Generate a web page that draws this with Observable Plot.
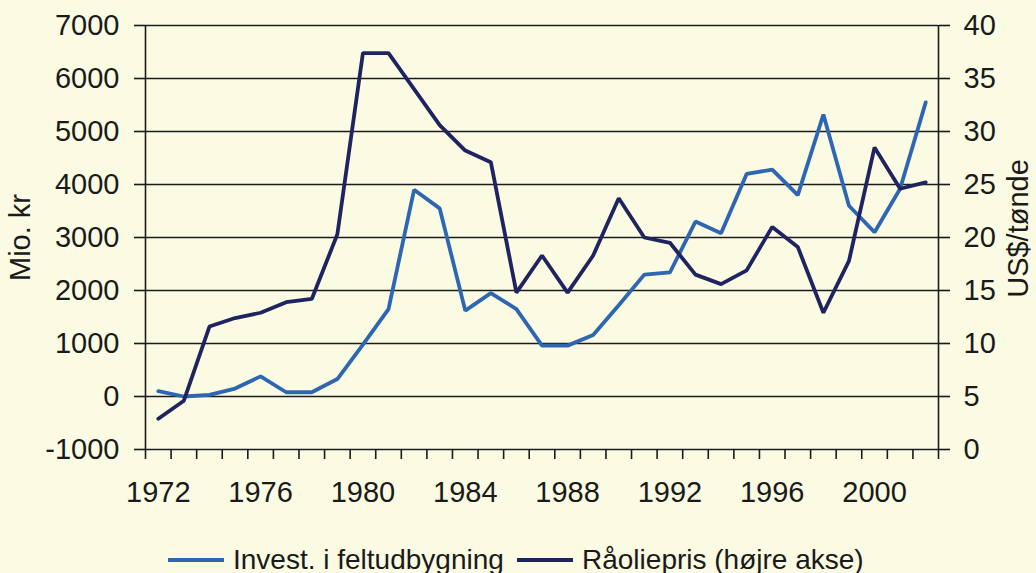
<!DOCTYPE html>
<html>
<head>
<meta charset="utf-8">
<script src="https://cdn.jsdelivr.net/npm/d3@7"></script>
<script src="https://cdn.jsdelivr.net/npm/@observablehq/plot@0.6"></script>
<style>
  html, body { margin: 0; padding: 0; background: #fbfae2; }
  body { width: 1036px; height: 573px; overflow: hidden; position: relative; font-family: "Liberation Sans", Arial, sans-serif; color: #1a1a1a; }
  #legend { position: absolute; left: 0; top: 538px; width: 1036px; height: 40px; font-size: 28px; }
  .item { position: absolute; top: 2px; white-space: nowrap; line-height: 40px; }
  .sw { display: inline-block; width: 56px; height: 4px; vertical-align: middle; margin-right: 9px; position: relative; top: -2px; }
</style>
</head>
<body>
<div id="chart"></div>
<div id="legend">
  <div class="item" style="left:168px"><span class="sw" style="background:#2d66b2"></span>Invest. i feltudbygning</div>
  <div class="item" style="left:517px"><span class="sw" style="background:#1f2461"></span>Råoliepris (højre akse)</div>
</div>
<script>
const years = d3.range(1972, 2003);
const invest = [100, 0, 30, 150, 380, 80, 80, 330, 980, 1650, 3900, 3550, 1620, 1950, 1650, 960, 960, 1160, 1720, 2300, 2340, 3300, 3080, 4200, 4280, 3800, 5320, 3600, 3100, 3920, 5550];
const oil = [2.9, 4.6, 11.6, 12.4, 12.9, 13.9, 14.2, 20.3, 37.4, 37.4, 34.0, 30.6, 28.2, 27.1, 14.8, 18.3, 14.8, 18.3, 23.7, 20.0, 19.5, 16.5, 15.6, 16.9, 21.0, 19.1, 12.9, 17.8, 28.5, 24.6, 25.2];
const leftTicks = [-1000, 0, 1000, 2000, 3000, 4000, 5000, 6000, 7000];
const rightTicks = [0, 5, 10, 15, 20, 25, 30, 35, 40];
const yearLabels = [1972, 1976, 1980, 1984, 1988, 1992, 1996, 2000];
const seriesNames = ["Invest. i feltudbygning", "Råoliepris (højre akse)"];

// right axis maps 0..40 onto -1000..7000
const toLeft = p => p * 200 - 1000;
const investData = years.map((y, i) => ({year: y, v: invest[i]}));
const oilData = years.map((y, i) => ({year: y, v: toLeft(oil[i])}));
const boundaries = d3.range(1971.5, 2003, 1);

const W = 1036, H = 532;
const FS = 29;
const chart = Plot.plot({
  width: W,
  height: H,
  marginTop: 25,
  marginBottom: H - 449,
  marginLeft: 145,
  marginRight: W - 938,
  style: {background: "transparent", fontFamily: "Liberation Sans, Arial, sans-serif", fontSize: FS + "px", color: "#1a1a1a"},
  x: {domain: [1971.5, 2002.5]},
  y: {domain: [-1000, 7000]},
  marks: [
    Plot.gridY(leftTicks, {stroke: "#1c1c1c", strokeOpacity: 1, strokeWidth: 1.6}),
    Plot.ruleX([1971.5, 2002.5], {stroke: "#1c1c1c", strokeWidth: 1.6}),
    Plot.axisY(leftTicks, {anchor: "left", tickSize: 11, tickPadding: 15, tickFormat: d => String(d), fontSize: FS, label: null, strokeWidth: 1.6}),
    Plot.axisY(rightTicks.map(toLeft), {anchor: "right", tickSize: 11, tickPadding: 14, tickFormat: d => String((d + 1000) / 200), fontSize: FS, label: null, strokeWidth: 1.6}),
    Plot.axisX(boundaries, {anchor: "bottom", tickSize: 10, tickFormat: () => "", label: null, strokeWidth: 1.6}),
    Plot.axisX(yearLabels, {anchor: "bottom", tickSize: 0, tickPadding: 32, tickFormat: d => String(d), fontSize: FS, label: null}),
    Plot.text(["Mio. kr"], {frameAnchor: "left", textAnchor: "middle", dx: -125, rotate: -90, fontSize: FS, fill: "#1a1a1a"}),
    Plot.text(["US$/tønde"], {frameAnchor: "right", textAnchor: "middle", dx: 80, dy: -9, rotate: -90, fontSize: FS, fill: "#1a1a1a"}),
    Plot.line(investData, {x: "year", y: "v", stroke: "#2d66b2", strokeWidth: 3.8, strokeLinejoin: "miter"}),
    Plot.line(oilData, {x: "year", y: "v", stroke: "#1f2461", strokeWidth: 3.8, strokeLinejoin: "miter"})
  ]
});
document.getElementById("chart").appendChild(chart);
</script>
</body>
</html>
